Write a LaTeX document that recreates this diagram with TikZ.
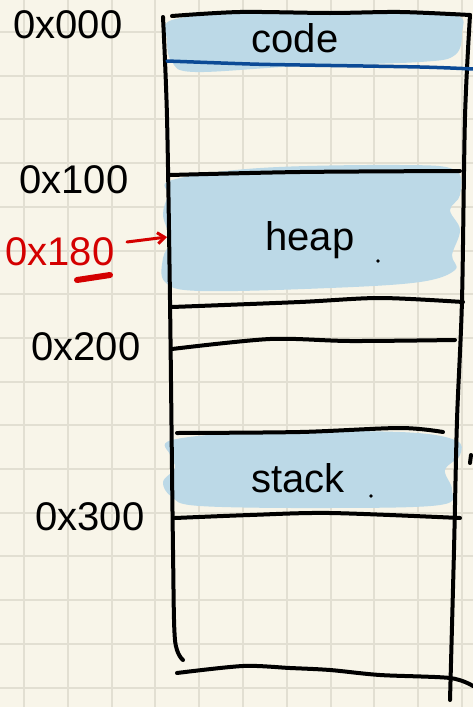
\documentclass[tikz,border=0pt]{standalone}
\usepackage{fontspec}
\setmainfont{Liberation Sans}
\usetikzlibrary{arrows.meta}
\definecolor{paper}{HTML}{F8F5E9}
\definecolor{gridc}{HTML}{E2DFD2}
\definecolor{fillb}{HTML}{BCD9E7}
\definecolor{darkb}{HTML}{0B4A96}
\definecolor{redc}{HTML}{D40000}
\tikzset{
  ink/.style={line width=4pt, line cap=round, line join=round, black},
  blob/.style={fill=fillb, draw=none},
  lbl/.style={font=\fontsize{40}{42}\selectfont, inner sep=0pt, black},
  seg/.style={font=\fontsize{40}{42}\selectfont, inner sep=0pt, black},
}
\begin{document}
\begin{tikzpicture}[x=1pt,y=-1pt]
\useasboundingbox (0,0) rectangle (473,707);
\fill[paper] (0,0) rectangle (473,707);
% grid
\foreach \i in {0,...,10} {\draw[gridc, line width=2pt] ({24+43.8*\i},0) -- ({24+43.8*\i},707);}
\foreach \j in {0,...,15} {\draw[gridc, line width=2pt] (0,{32+43.7*\j}) -- (473,{32+43.7*\j});}
% blue fills
\fill[blob] plot[smooth cycle, tension=0.6] coordinates {(172,20) (250,13) (380,11) (455,15) (462,32) (455,55) (420,62) (300,66) (195,72) (172,62) (167,40)};
\fill[blob] plot[smooth cycle, tension=0.6] coordinates {(172,180) (260,168) (400,165) (455,170) (460,195) (450,210) (460,230) (452,255) (455,270) (420,282) (330,288) (200,291) (165,282) (163,258) (170,240) (163,215) (168,195)};
\fill[blob] plot[smooth cycle, tension=0.6] coordinates {(172,440) (260,432) (400,432) (455,440) (460,455) (445,470) (452,490) (440,505) (330,508) (200,506) (172,497) (163,482) (175,468) (170,455)};
% outer frame
\draw[ink] plot[smooth, tension=0.5] coordinates {(163,17) (167,117) (170,300) (173,550) (175,640) (183,660)};
\draw[ink] plot[smooth, tension=0.5] coordinates {(470,15) (465,117) (462,300) (457,420) (454,550) (450,700)};
\draw[ink] plot[smooth, tension=0.5] coordinates {(172,16) (240,12) (330,13) (400,12) (470,15)};
% code separator
\draw[darkb, line width=3.5pt, line cap=round] plot[smooth, tension=0.5] coordinates {(167,61) (250,64) (300,65) (420,67) (473,69)};
% heap lines
\draw[ink] plot[smooth, tension=0.5] coordinates {(170,175) (300,172) (460,171)};
\draw[ink] plot[smooth, tension=0.5] coordinates {(172,307) (300,302) (380,298) (463,302)};
\draw[ink] plot[smooth, tension=0.5] coordinates {(172,349) (270,339) (350,341) (455,340)};
% stack lines
\draw[ink] plot[smooth, tension=0.5] coordinates {(177,433) (300,432) (400,428) (443,432)};
\draw[ink] plot[smooth, tension=0.5] coordinates {(175,518) (250,515) (330,513) (460,518)};
% bottom
\draw[ink] plot[smooth, tension=0.5] coordinates {(177,673) (243,666) (290,668) (330,670) (380,675) (450,678) (473,686)};
\draw[ink] (471,455) -- (470,463);
% segment labels
\node[seg] (code) at (295,38) {code};
\node[seg] (heap) at (310,240) {heap};
\fill (378,261) circle (1.8pt);
\node[seg] (stack) at (298,478) {stack};
\fill (371,496) circle (1.8pt);
% addresses
\node[lbl] (a0) at (68,25) {0x000};
\node[lbl] (a1) at (74,180) {0x100};
\node[lbl] (a2) at (86,347) {0x200};
\node[lbl] (a3) at (90,517) {0x300};
\node[lbl, text=redc] (a15) at (60,252) {0x180};
\draw[redc, line width=6pt, line cap=round] (77,280) -- (110,275);
\coordinate (tip) at (167,237);
\draw[redc, line width=3pt, line cap=round, -{Straight Barb[length=7pt,width=11pt]}] (127,242) -- (tip);
\end{tikzpicture}
\end{document}
